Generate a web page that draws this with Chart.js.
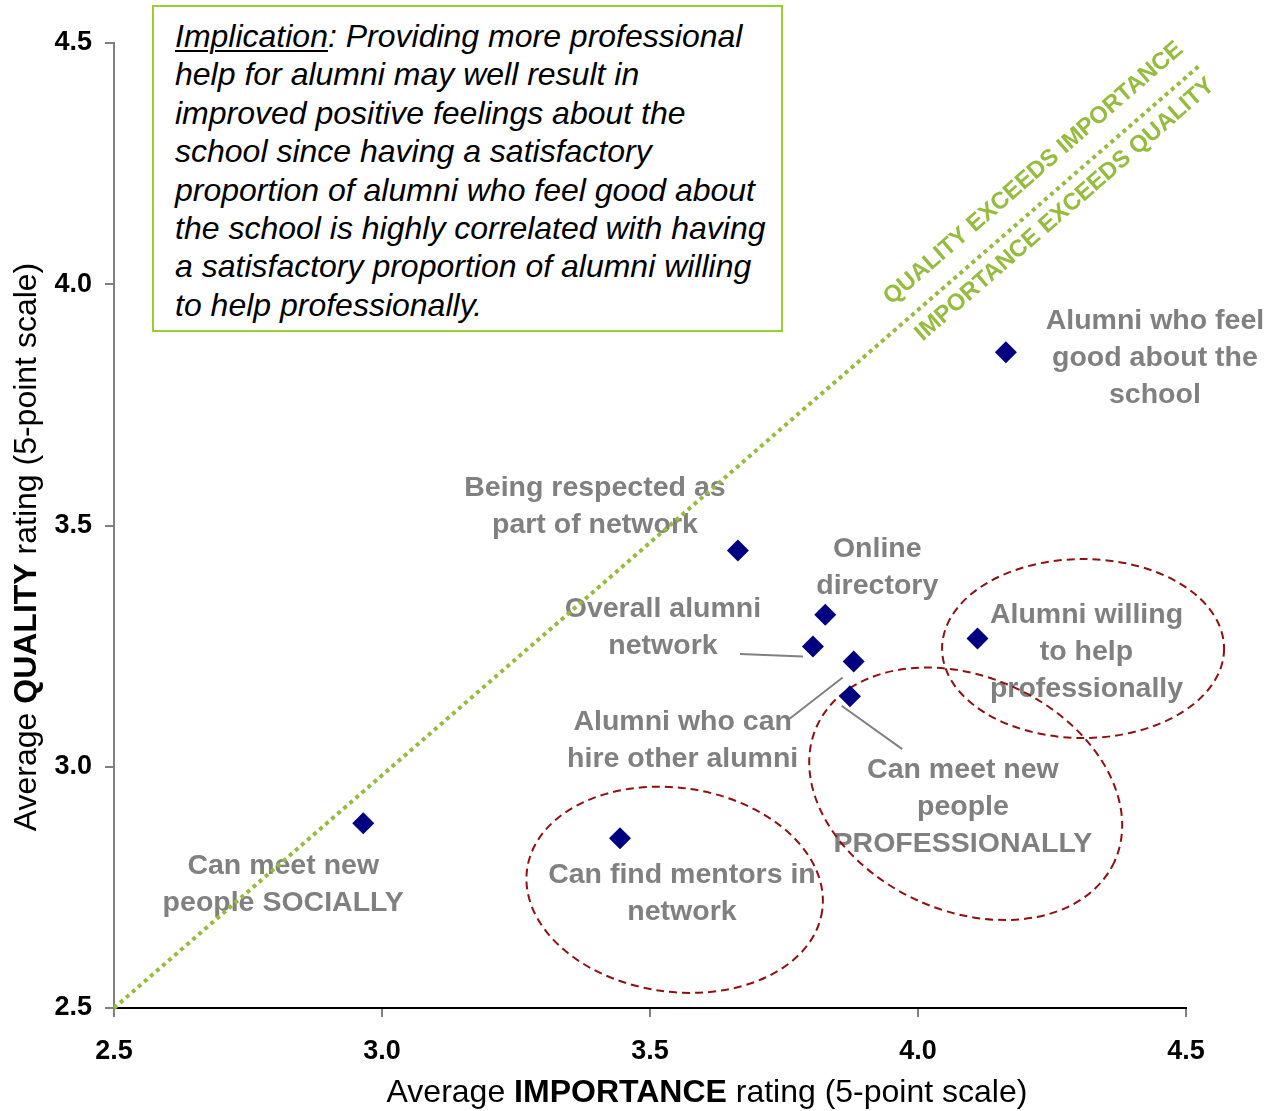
<!DOCTYPE html>
<html>
<head>
<meta charset="utf-8">
<title>Alumni network: importance vs quality</title>
<script src="https://cdn.jsdelivr.net/npm/chart.js@4.4.1/dist/chart.umd.min.js"></script>
<style>
  html, body { margin: 0; padding: 0; background: #ffffff; }
  #wrap { position: relative; width: 1272px; height: 1111px; overflow: hidden; }
  #chart { position: absolute; left: 0; top: 0; }
  #note {
    position: absolute; left: 152px; top: 5px;
    width: 606px; height: 313px;
    padding: 10px 0 0 21px;
    border: 2px solid #9ACD32;
    background: #ffffff;
    font: italic 32px "Liberation Sans", Arial, sans-serif;
    line-height: 38.4px;
    color: #000000;
    white-space: nowrap;
  }
  #note u { text-decoration-thickness: 2px; text-underline-offset: 3px; }
</style>
</head>
<body>
<div id="wrap">
  <canvas id="chart" width="1272" height="1111"></canvas>
  <div id="note"><u>Implication</u>: Providing more professional<br>help for alumni may well result in<br>improved positive feelings about the<br>school since having a satisfactory<br>proportion of alumni who feel good about<br>the school is highly correlated with having<br>a satisfactory proportion of alumni willing<br>to help professionally.</div>
</div>
<script>
// ---- data ----
const importance = [2.965, 3.444, 3.664, 3.827, 3.804, 3.880, 3.873, 4.111, 4.164];
const quality    = [2.883, 2.852, 3.448, 3.315, 3.249, 3.218, 3.146, 3.266, 3.859];
const itemLabels = [
  ['Can meet new', 'people SOCIALLY'],
  ['Can find mentors in', 'network'],
  ['Being respected as', 'part of network'],
  ['Online', 'directory'],
  ['Overall alumni', 'network'],
  ['Alumni who can', 'hire other alumni'],
  ['Can meet new', 'people', 'PROFESSIONALLY'],
  ['Alumni willing', 'to help', 'professionally'],
  ['Alumni who feel', 'good about the', 'school']
];
const axisTicks = [2.5, 3.0, 3.5, 4.0, 4.5];
const parityLineX = [2.5, 4.526];
const parityLineY = [2.5, 4.454];
const zoneLabels = ['QUALITY EXCEEDS IMPORTANCE', 'IMPORTANCE EXCEEDS QUALITY'];
const xTitleRuns = [['Average ', false], ['IMPORTANCE', true], [' rating (5-point scale)', false]];
const yTitleRuns = [['Average ', false], ['QUALITY', true], [' rating (5-point scale)', false]];

// ---- layout & styling ----
const FONT = '"Liberation Sans", Arial, sans-serif';
const NAVY = '#000080';
const GREY = '#808080';
const GREEN = '#95BC3C';
const RING_RED = '#8E1010';

// label block: first-line centre offset from its point (px)
const labelOffsets = [[-80, 43], [62, 37], [-143, -62], [52, -66], [-150, -37], [-171, 61], [113, 74], [109, -23], [149, -31]];
const labelLineGap = 37;
// leader lines (start/end offsets from the point, px), keyed by item index
const leaderLines = {
  4: [[-73, 7.5], [-10, 10]],
  5: [[-65.4, 58.2], [-11, 16]],
  6: [[-8.3, 9.5], [52.3, 52.8]]
};
// dashed rings: centre in axis units, radii in px, rotation in degrees
const rings = [
  { cx: 3.546, cy: 2.745, rx: 149, ry: 102, rot: 8 },
  { cx: 4.308, cy: 3.245, rx: 141, ry: 89.5, rot: 0 },
  { cx: 4.089, cy: 2.944, rx: 163.5, ry: 117, rot: 24.5 }
];
const zoneAnchorX = 4.249;           // where the zone captions sit along the parity line
const zoneOffsets = [27.6, -20.5];   // perpendicular offsets of the captions (px)

const xTitlePos = { x: 707, y: 1093 };
const yTitlePos = { x: 27, y: 547 };

function drawRuns(ctx, runs, cx, cy, rot) {
  ctx.save();
  ctx.translate(cx, cy);
  ctx.rotate(rot);
  const fonts = runs.map(r => (r[1] ? 'bold ' : '') + '32px ' + FONT);
  let total = 0;
  const widths = runs.map((r, i) => { ctx.font = fonts[i]; const w = ctx.measureText(r[0]).width; total += w; return w; });
  let x = -total / 2;
  ctx.fillStyle = '#000000';
  ctx.textBaseline = 'middle';
  ctx.textAlign = 'left';
  runs.forEach((r, i) => { ctx.font = fonts[i]; ctx.fillText(r[0], x, 0); x += widths[i]; });
  ctx.restore();
}

const annotationsPlugin = {
  id: 'annotations',
  beforeDatasetsDraw(chart) {
    const ctx = chart.ctx;
    const xs = chart.scales.x, ys = chart.scales.y;

    // point captions + leader lines
    ctx.save();
    ctx.font = 'bold 28.5px ' + FONT;
    ctx.fillStyle = GREY;
    ctx.textAlign = 'center';
    ctx.textBaseline = 'middle';
    itemLabels.forEach((lines, i) => {
      const px = xs.getPixelForValue(importance[i]);
      const py = ys.getPixelForValue(quality[i]);
      const [ox, oy] = labelOffsets[i];
      lines.forEach((t, k) => ctx.fillText(t, px + ox, py + oy + k * labelLineGap));
      const ll = leaderLines[i];
      if (ll) {
        ctx.beginPath();
        ctx.strokeStyle = GREY;
        ctx.lineWidth = 2;
        ctx.moveTo(px + ll[0][0], py + ll[0][1]);
        ctx.lineTo(px + ll[1][0], py + ll[1][1]);
        ctx.stroke();
      }
    });
    ctx.restore();

    // dashed rings
    ctx.save();
    ctx.strokeStyle = RING_RED;
    ctx.lineWidth = 2;
    ctx.setLineDash([8, 5]);
    rings.forEach(r => {
      ctx.beginPath();
      ctx.ellipse(xs.getPixelForValue(r.cx), ys.getPixelForValue(r.cy), r.rx, r.ry, r.rot * Math.PI / 180, 0, Math.PI * 2);
      ctx.stroke();
    });
    ctx.restore();

    // zone captions along the parity line
    const p0 = { x: xs.getPixelForValue(parityLineX[0]), y: ys.getPixelForValue(parityLineY[0]) };
    const p1 = { x: xs.getPixelForValue(parityLineX[1]), y: ys.getPixelForValue(parityLineY[1]) };
    const ang = Math.atan2(p1.y - p0.y, p1.x - p0.x);
    const t = (zoneAnchorX - parityLineX[0]) / (parityLineX[1] - parityLineX[0]);
    const ax = p0.x + t * (p1.x - p0.x), ay = p0.y + t * (p1.y - p0.y);
    const nx = Math.sin(ang), ny = -Math.cos(ang);
    ctx.save();
    ctx.font = 'bold 23.7px ' + FONT;
    ctx.fillStyle = GREEN;
    ctx.textAlign = 'center';
    ctx.textBaseline = 'middle';
    zoneLabels.forEach((txt, i) => {
      ctx.save();
      ctx.translate(ax + nx * zoneOffsets[i], ay + ny * zoneOffsets[i]);
      ctx.rotate(ang);
      ctx.fillText(txt, 0, 0);
      ctx.restore();
    });
    ctx.restore();
  },
  afterDraw(chart) {
    drawRuns(chart.ctx, xTitleRuns, xTitlePos.x, xTitlePos.y, 0);
    drawRuns(chart.ctx, yTitleRuns, yTitlePos.x, yTitlePos.y, -Math.PI / 2);
  }
};

const tickFont = { family: FONT, size: 27, weight: 'bold' };

new Chart(document.getElementById('chart'), {
  type: 'scatter',
  data: {
    datasets: [
      {
        type: 'scatter',
        label: 'Attributes',
        data: importance.map((v, i) => ({ x: v, y: quality[i] })),
        pointStyle: 'rectRot',
        pointRadius: 11,
        backgroundColor: NAVY,
        borderColor: NAVY,
        borderWidth: 0,
        order: 0
      },
      {
        type: 'line',
        label: 'Parity',
        data: parityLineX.map((v, i) => ({ x: v, y: parityLineY[i] })),
        borderColor: GREEN,
        borderWidth: 4,
        borderDash: [4, 4],
        pointRadius: 0,
        fill: false,
        clip: false,
        order: 1
      }
    ]
  },
  options: {
    responsive: false,
    animation: false,
    events: [],
    layout: { padding: { top: 43, right: 86, left: 0, bottom: 0 } },
    plugins: { legend: { display: false }, tooltip: { enabled: false } },
    scales: {
      x: {
        type: 'linear',
        min: 2.5, max: 4.5,
        afterBuildTicks: s => { s.ticks = axisTicks.map(v => ({ value: v })); },
        afterFit: s => { s.height = 103; },
        ticks: { font: tickFont, color: '#000000', padding: 18, callback: v => Number(v).toFixed(1) },
        grid: { drawOnChartArea: false, drawTicks: true, tickLength: 9, color: GREY, lineWidth: 2 },
        border: { display: true, color: '#000000', width: 2 }
      },
      y: {
        type: 'linear',
        min: 2.5, max: 4.5,
        afterBuildTicks: s => { s.ticks = axisTicks.map(v => ({ value: v })); },
        afterFit: s => { s.width = 114; },
        ticks: { font: tickFont, color: '#000000', padding: 13, callback: v => Number(v).toFixed(1) },
        grid: { drawOnChartArea: false, drawTicks: true, tickLength: 9, color: GREY, lineWidth: 2 },
        border: { display: true, color: GREY, width: 2 }
      }
    }
  },
  plugins: [annotationsPlugin]
});
</script>
</body>
</html>
